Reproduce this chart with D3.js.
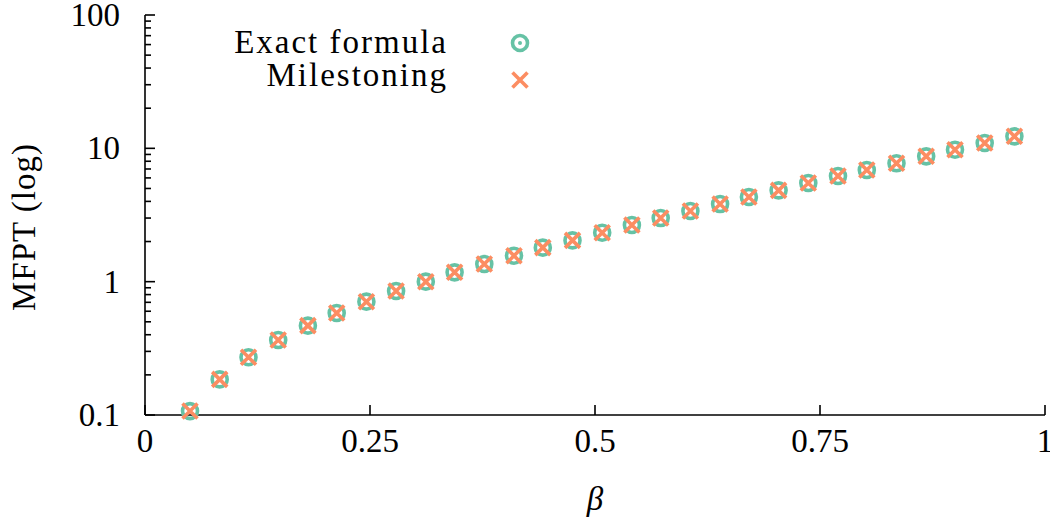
<!DOCTYPE html>
<html>
<head>
<meta charset="utf-8">
<script src="https://cdn.jsdelivr.net/npm/d3@7"></script>
<style>
  html, body { margin: 0; padding: 0; background: #fff; }
  svg { display: block; }
</style>
</head>
<body>
<svg id="chart" width="1050" height="522"></svg>
<script>
// ---- data ----
const beta = [0.050, 0.083, 0.115, 0.148, 0.181, 0.213, 0.246, 0.279, 0.312, 0.344,
              0.377, 0.410, 0.442, 0.475, 0.508, 0.541, 0.573, 0.606, 0.639, 0.671,
              0.704, 0.737, 0.770, 0.802, 0.835, 0.868, 0.900, 0.933, 0.966];
const exactFormula = [0.107, 0.185, 0.271, 0.365, 0.468, 0.582, 0.708, 0.851, 1.00, 1.175,
                      1.357, 1.566, 1.80, 2.04, 2.33, 2.66, 3.00, 3.39, 3.82, 4.32,
                      4.84, 5.50, 6.20, 6.88, 7.72, 8.71, 9.77, 10.96, 12.3];
const milestoning = [0.107, 0.185, 0.271, 0.365, 0.468, 0.582, 0.708, 0.851, 1.00, 1.175,
                     1.357, 1.566, 1.80, 2.04, 2.33, 2.66, 3.00, 3.39, 3.82, 4.32,
                     4.84, 5.50, 6.20, 6.88, 7.72, 8.71, 9.77, 10.96, 12.3];
const xTicks = [0, 0.25, 0.5, 0.75, 1];
const xTickLabels = ["0", "0.25", "0.5", "0.75", "1"];
const yTicks = [0.1, 1, 10, 100];
const yTickLabels = ["0.1", "1", "10", "100"];
const seriesNames = ["Exact formula", "Milestoning"];
const colors = ["#66c2a5", "#fc8d62"];

// ---- layout ----
const FONT = "Liberation Serif";
const svg = d3.select("#chart");
const mLeft = 145, mRight = 1045, mTop = 15, mBottom = 415;
const x = d3.scaleLinear().domain([0, 1]).range([mLeft, mRight]);
const y = d3.scaleLog().domain([0.1, 100]).range([mBottom, mTop]);
const FS = 33;

// minor ticks for the log axis
const yMinor = [];
[0.1, 1, 10].forEach(d => { for (let k = 2; k <= 9; k++) yMinor.push(d * k); });

const axes = svg.append("g").attr("stroke", "#000").attr("stroke-width", 1.6).attr("fill", "none");
axes.append("line").attr("x1", x(0)).attr("x2", x(1)).attr("y1", y(0.1)).attr("y2", y(0.1));
axes.append("line").attr("x1", x(0)).attr("x2", x(0)).attr("y1", y(0.1)).attr("y2", y(100));
axes.selectAll(".ymaj").data(yTicks).join("line")
  .attr("x1", x(0)).attr("x2", x(0) + 10).attr("y1", d => y(d)).attr("y2", d => y(d));
axes.selectAll(".ymin").data(yMinor).join("line")
  .attr("x1", x(0)).attr("x2", x(0) + 6).attr("y1", d => y(d)).attr("y2", d => y(d));
axes.selectAll(".xmaj").data(xTicks).join("line")
  .attr("x1", d => x(d)).attr("x2", d => x(d)).attr("y1", y(0.1)).attr("y2", y(0.1) - 10);

// tick labels
svg.selectAll(".ylab").data(yTicks).join("text")
  .attr("font-family", FONT).attr("font-size", FS)
  .attr("x", mLeft - 25).attr("y", d => y(d) + 11)
  .attr("text-anchor", "end")
  .text((d, i) => yTickLabels[i]);
svg.selectAll(".xlab").data(xTicks).join("text")
  .attr("font-family", FONT).attr("font-size", FS)
  .attr("x", d => x(d)).attr("y", 452)
  .attr("text-anchor", "middle")
  .text((d, i) => xTickLabels[i]);

// axis titles
svg.append("text")
  .attr("font-family", FONT).attr("font-size", FS)
  .attr("transform", `translate(35, ${(mTop + mBottom) / 2 + 12}) rotate(-90)`)
  .attr("text-anchor", "middle").attr("letter-spacing", 1)
  .text("MFPT (log)");
svg.append("text")
  .attr("font-family", FONT).attr("font-size", FS).attr("font-style", "italic")
  .attr("x", x(0.5)).attr("y", 510)
  .attr("text-anchor", "middle")
  .text("β");

// markers
function drawCircle(g, cx, cy, withDot) {
  g.append("circle").attr("cx", cx).attr("cy", cy).attr("r", 7.5)
    .attr("fill", "none").attr("stroke", colors[0]).attr("stroke-width", 3.6);
  if (withDot) g.append("circle").attr("cx", cx).attr("cy", cy).attr("r", 2).attr("fill", colors[0]);
}
function drawCross(g, cx, cy) {
  const s = 7.5;
  g.append("path")
    .attr("d", `M${cx - s},${cy - s}L${cx + s},${cy + s}M${cx - s},${cy + s}L${cx + s},${cy - s}`)
    .attr("stroke", colors[1]).attr("stroke-width", 3.6).attr("fill", "none");
}

const gA = svg.append("g");
beta.forEach((b, i) => drawCircle(gA, x(b), y(exactFormula[i]), true));
const gB = svg.append("g");
beta.forEach((b, i) => drawCross(gB, x(b), y(milestoning[i])));

// legend
const leg = svg.append("g");
const legRows = [{ ty: 53, my: 43 }, { ty: 86, my: 80 }];
seriesNames.forEach((name, i) => {
  leg.append("text").attr("x", 448).attr("y", legRows[i].ty)
    .attr("font-family", FONT).attr("font-size", FS).attr("letter-spacing", 2)
    .attr("text-anchor", "end")
    .text(name);
});
drawCircle(leg, 520, legRows[0].my, true);
drawCross(leg, 520, legRows[1].my);
</script>
</body>
</html>
